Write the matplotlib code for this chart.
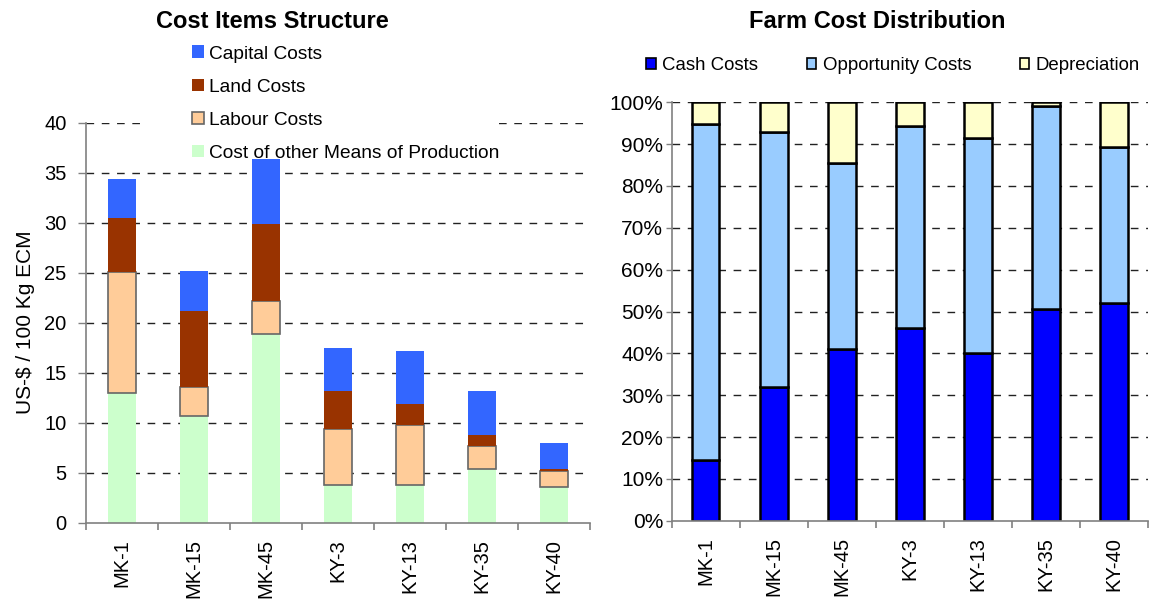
import matplotlib
matplotlib.use("Agg")
import matplotlib.pyplot as plt
import matplotlib.patches as mpatches
import numpy as np

plt.rcParams['font.family'] = ['Liberation Sans', 'DejaVu Sans']

# ---------------- data ----------------
farms = ["MK-1", "MK-15", "MK-45", "KY-3", "KY-13", "KY-35", "KY-40"]

# Cost Items Structure (US-$ / 100 Kg ECM)
other_means = [13.0, 10.65, 18.85, 3.75, 3.75, 5.4, 3.55]
labour = [12.1, 2.95, 3.35, 5.65, 6.0, 2.3, 1.65]
land = [5.35, 7.55, 7.65, 3.8, 2.15, 1.05, 0.2]
capital = [3.95, 4.05, 6.5, 4.25, 5.3, 4.45, 2.6]

# Farm Cost Distribution (%)
cash = [14.5, 32.0, 41.0, 46.0, 40.0, 50.5, 52.0]
opportunity = [80.3, 61.0, 44.4, 48.4, 51.4, 48.5, 37.4]
depreciation = [5.2, 7.0, 14.6, 5.6, 8.6, 1.0, 10.6]

left_yticks = [0, 5, 10, 15, 20, 25, 30, 35, 40]
right_yticks = [0, 10, 20, 30, 40, 50, 60, 70, 80, 90, 100]

# ---------------- style ----------------
C_CAP = "#3366FF"
C_LAND = "#993300"
C_LAB = "#FFCC99"
C_OTH = "#CCFFCC"
C_CASH = "#0000FF"
C_OPP = "#99CCFF"
C_DEP = "#FFFFCC"
AX_COL = "#808080"

W, H = 1149, 604
fig = plt.figure(figsize=(W / 100, H / 100), dpi=100)

x = np.arange(len(farms))


def style_axes(ax, ticklen, pad, ylabelsize):
    for s in ["top", "right"]:
        ax.spines[s].set_visible(False)
    for s in ["left", "bottom"]:
        ax.spines[s].set_color(AX_COL)
        ax.spines[s].set_linewidth(1.2)
    ax.set_xlim(-0.5, len(farms) - 0.5)
    ax.set_xticks(x)
    ax.set_xticklabels(farms, rotation=90, fontsize=14.5)
    ax.tick_params(axis="x", which="major", length=0, pad=12)
    ax.set_xticks(np.arange(-0.5, len(farms) + 0.5, 1.0), minor=True)
    ax.tick_params(axis="x", which="minor", length=5, width=1.2, color=AX_COL, direction="out")
    ax.tick_params(axis="y", length=ticklen, width=1.0, color=AX_COL, direction="out",
                   labelsize=ylabelsize, pad=pad)
    ax.set_axisbelow(True)


# ---------------- left chart ----------------
axL = fig.add_axes([86 / W, 1 - 522.5 / H, (590 - 86) / W, (522.5 - 123) / H])
bw = 0.4
b0 = np.zeros(len(farms))
axL.bar(x, other_means, bw, bottom=b0, color=C_OTH, linewidth=0, zorder=2)
b1 = b0 + np.array(other_means)
axL.bar(x, labour, bw, bottom=b1, color=C_LAB, edgecolor="#666666", linewidth=1.2, zorder=2)
b2 = b1 + np.array(labour)
axL.bar(x, land, bw, bottom=b2, color=C_LAND, linewidth=0, zorder=2)
b3 = b2 + np.array(land)
axL.bar(x, capital, bw, bottom=b3, color=C_CAP, linewidth=0, zorder=2)

axL.set_ylim(0, 40)
axL.set_yticks(left_yticks)
for v in left_yticks[1:]:
    axL.axhline(v, color="#222222", linewidth=1.0, linestyle=(0, (5.5, 5.5)), zorder=1)
style_axes(axL, 6, 8, 14.5)
fig.text(26 / W, 1 - 322 / H, "US-$ / 100 Kg ECM", rotation=90, fontsize=15,
         ha="center", va="center")

# white area behind the legend hiding part of the top grid line
fig.patches.append(mpatches.Rectangle((147 / W, 1 - 135 / H), (497 - 147) / W, 25 / H,
                                      transform=fig.transFigure, facecolor="white",
                                      edgecolor="none", zorder=3))

handlesL = [
    mpatches.Patch(facecolor=C_CAP, edgecolor="none", label="Capital Costs"),
    mpatches.Patch(facecolor=C_LAND, edgecolor="none", label="Land Costs"),
    mpatches.Patch(facecolor=C_LAB, edgecolor="#666666", linewidth=1.2, label="Labour Costs"),
    mpatches.Patch(facecolor=C_OTH, edgecolor="none", label="Cost of other Means of Production"),
]
legL = fig.legend(handles=handlesL, loc="upper left",
                  bbox_to_anchor=(192 / W, 1 - 45.5 / H), fontsize=13.8,
                  frameon=False,
                  handlelength=0.65, handleheight=0.65, handletextpad=0.22,
                  labelspacing=0.83, borderpad=0, borderaxespad=0)
legL.set_zorder(5)

fig.text(272 / W, 1 - 22 / H, "Cost Items Structure", fontsize=17, fontweight="bold",
         ha="center", va="center")

# ---------------- right chart ----------------
axR = fig.add_axes([671.5 / W, 1 - 520.7 / H, (1148 - 671.5) / W, (520.7 - 102.3) / H])
bw2 = 0.41
ec = "black"
lw = 1.8
r0 = np.zeros(len(farms))
axR.bar(x, cash, bw2, bottom=r0, color=C_CASH, edgecolor=ec, linewidth=lw, zorder=2)
r1 = r0 + np.array(cash)
axR.bar(x, opportunity, bw2, bottom=r1, color=C_OPP, edgecolor=ec, linewidth=lw, zorder=2)
r2 = r1 + np.array(opportunity)
axR.bar(x, depreciation, bw2, bottom=r2, color=C_DEP, edgecolor=ec, linewidth=lw, zorder=2)

axR.set_ylim(0, 100)
axR.set_yticks(right_yticks)
axR.set_yticklabels([f"{v}%" for v in right_yticks])
for v in right_yticks[1:]:
    axR.axhline(v, color="#222222", linewidth=1.0, linestyle=(0, (5.5, 5.5)), zorder=1)
style_axes(axR, 4, 2, 15)

handlesR = [
    mpatches.Patch(facecolor=C_CASH, edgecolor="black", linewidth=1.2, label="Cash Costs"),
    mpatches.Patch(facecolor=C_OPP, edgecolor="black", linewidth=1.2, label="Opportunity Costs"),
    mpatches.Patch(facecolor=C_DEP, edgecolor="black", linewidth=1.2, label="Depreciation"),
]
legR = fig.legend(handles=handlesR, loc="center left", ncol=3,
                  bbox_to_anchor=(646 / W, 1 - 66 / H), fontsize=13.4, frameon=False,
                  handlelength=0.52, handleheight=0.52, handletextpad=0.35,
                  columnspacing=2.6, borderpad=0, borderaxespad=0)

fig.text(877 / W, 1 - 22 / H, "Farm Cost Distribution", fontsize=17, fontweight="bold",
         ha="center", va="center")

fig.savefig("out.png", dpi=100)
